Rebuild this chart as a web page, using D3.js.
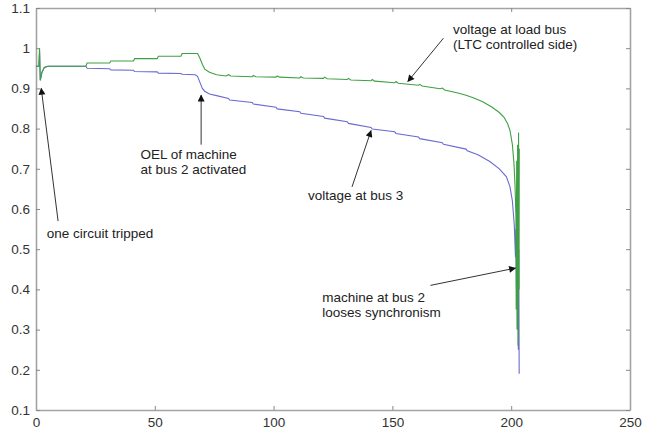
<!DOCTYPE html>
<html>
<head>
<meta charset="utf-8">
<script src="https://cdn.jsdelivr.net/npm/d3@7"></script>
<style>
  body { margin: 0; background: #fff; }
  text { font-family: "Liberation Sans", Arial, sans-serif; }
</style>
</head>
<body>
<div id="chart"></div>
<script>
// time (s) and voltage (pu)
const timeLoad = [0, 1.2, 1.5, 1.8, 2.5, 3.5, 5, 21, 21.5, 31, 31.5, 41, 41.5, 51, 51.5, 61, 61.5, 68, 69, 70, 71, 73, 76, 80, 81, 82, 91, 91.5, 92.5, 101, 101.5, 102.5, 111, 111.5, 112.5, 121, 121.5, 122.5, 131, 131.5, 132.5, 141, 141.5, 142.5, 151, 151.5, 152.5, 161, 161.5, 162.5, 170, 171, 172, 178, 181, 184, 188, 192, 195, 197, 198.5, 199.5, 200.5, 201.2, 201.6, 202, 202.1, 202.3, 202.5, 202.7, 202.9, 203.1, 203.3, 203.4];
const voltLoad = [0.955, 0.955, 1.0, 0.92, 0.94, 0.952, 0.955, 0.955, 0.963, 0.963, 0.968, 0.968, 0.974, 0.974, 0.98, 0.98, 0.987, 0.987, 0.975, 0.96, 0.948, 0.94, 0.934, 0.931, 0.934, 0.931, 0.929, 0.932, 0.929, 0.928, 0.931, 0.928, 0.926, 0.929, 0.926, 0.925, 0.928, 0.924, 0.922, 0.925, 0.921, 0.919, 0.922, 0.918, 0.914, 0.917, 0.913, 0.908, 0.91, 0.906, 0.899, 0.901, 0.896, 0.888, 0.883, 0.877, 0.867, 0.853, 0.84, 0.828, 0.812, 0.795, 0.76, 0.71, 0.66, 0.58, 0.35, 0.72, 0.3, 0.76, 0.26, 0.79, 0.4, 0.75];

const timeBus3 = [0, 1.2, 1.5, 1.8, 2.5, 3.5, 5, 21, 21.5, 31, 31.5, 41, 41.5, 51, 51.5, 61, 61.5, 67, 68, 69, 70, 71, 73, 76, 81, 81.5, 91, 91.5, 101, 101.5, 111, 111.5, 121, 121.5, 131, 131.5, 141, 141.5, 151, 151.5, 161, 161.5, 171, 171.5, 181, 181.5, 186, 191, 195, 198, 199.5, 200.5, 201.3, 201.8, 202, 202.2, 202.4, 202.6, 202.8, 203, 203.2, 203.35];
const voltBus3 = [0.955, 0.955, 0.99, 0.92, 0.94, 0.952, 0.955, 0.955, 0.95, 0.949, 0.946, 0.945, 0.942, 0.941, 0.938, 0.937, 0.935, 0.934, 0.93, 0.915, 0.9, 0.893, 0.886, 0.882, 0.875, 0.871, 0.865, 0.861, 0.853, 0.849, 0.842, 0.838, 0.83, 0.826, 0.817, 0.813, 0.803, 0.799, 0.792, 0.788, 0.779, 0.775, 0.765, 0.761, 0.749, 0.745, 0.735, 0.718, 0.7, 0.68, 0.655, 0.62, 0.56, 0.48, 0.55, 0.4, 0.62, 0.3, 0.58, 0.25, 0.5, 0.19];

const xTicks = [0, 50, 100, 150, 200, 250];
const yTicks = [0.1, 0.2, 0.3, 0.4, 0.5, 0.6, 0.7, 0.8, 0.9, 1, 1.1];

// annotations: text lines, then arrow from (t, v) to (t, v)
const notes = [
  { lines: ["voltage at load bus", "(LTC controlled side)"], at: [175.5, 1.036], from: [171.5, 1.025], to: [156.5, 0.917] },
  { lines: ["OEL of machine", "at bus 2 activated"], at: [44, 0.725], from: [69.5, 0.76], to: [69.5, 0.883] },
  { lines: ["voltage at bus 3"], at: [114.5, 0.623], from: [133, 0.655], to: [141, 0.795] },
  { lines: ["one circuit tripped"], at: [4.5, 0.528], from: [9.3, 0.57], to: [2.2, 0.9] },
  { lines: ["machine at bus 2", "looses synchronism"], at: [120.5, 0.368], from: [166, 0.41], to: [201.8, 0.453] }
];

const width = 648, height = 431;
const padLeft = 36, padRight = 630, padTop = 8, padBottom = 410;

const xScale = d3.scaleLinear().domain([0, 250]).range([padLeft, padRight]);
const yScale = d3.scaleLinear().domain([0.1, 1.1]).range([padBottom, padTop]);

const svg = d3.select("#chart").append("svg")
  .attr("width", width)
  .attr("height", height);

svg.append("defs").append("marker")
  .attr("id", "head")
  .attr("viewBox", "0 0 10 10")
  .attr("refX", 9).attr("refY", 5)
  .attr("markerWidth", 9).attr("markerHeight", 7)
  .attr("markerUnits", "userSpaceOnUse")
  .attr("orient", "auto")
  .append("path").attr("d", "M0,0L10,5L0,10z").attr("fill", "#111");

// axes on all four sides, ticks pointing inwards
const axisColor = "#a3a3a3";
function styleAxis(g) {
  g.select(".domain").attr("stroke", axisColor).attr("stroke-width", 1.6);
  g.selectAll(".tick line").attr("stroke", "#888");
  g.selectAll(".tick text").attr("fill", "#333").attr("font-size", "13.5px")
    .attr("font-family", "Liberation Sans, Arial, sans-serif");
}

svg.append("g")
  .attr("transform", "translate(0," + padBottom + ")")
  .call(d3.axisBottom(xScale).tickValues(xTicks).tickSizeInner(-4).tickSizeOuter(0).tickPadding(7).tickFormat(d3.format("d")))
  .call(styleAxis);
svg.append("g")
  .attr("transform", "translate(0," + padTop + ")")
  .call(d3.axisTop(xScale).tickValues(xTicks).tickSizeInner(-4).tickSizeOuter(0).tickFormat(""))
  .call(styleAxis);
svg.append("g")
  .attr("transform", "translate(" + padLeft + ",0)")
  .call(d3.axisLeft(yScale).tickValues(yTicks).tickSizeInner(-4).tickSizeOuter(0).tickPadding(6).tickFormat(d => d3.format("")(+d.toFixed(1))))
  .call(styleAxis);
svg.append("g")
  .attr("transform", "translate(" + padRight + ",0)")
  .call(d3.axisRight(yScale).tickValues(yTicks).tickSizeInner(-4).tickSizeOuter(0).tickFormat(""))
  .call(styleAxis);

const line = d3.line()
  .x(d => xScale(d[0]))
  .y(d => yScale(d[1]));

const bus3 = timeBus3.map((t, i) => [t, voltBus3[i]]);
const load = timeLoad.map((t, i) => [t, voltLoad[i]]);

svg.append("path").datum(bus3)
  .attr("d", line).attr("fill", "none")
  .attr("stroke", "#6a6ad2").attr("stroke-width", 1.1);
svg.append("path").datum(load)
  .attr("d", line).attr("fill", "none")
  .attr("stroke", "#3f9f44").attr("stroke-width", 1.1);

// annotations
notes.forEach(n => {
  svg.append("line")
    .attr("x1", xScale(n.from[0])).attr("y1", yScale(n.from[1]))
    .attr("x2", xScale(n.to[0])).attr("y2", yScale(n.to[1]))
    .attr("stroke", "#333").attr("stroke-width", 1)
    .attr("marker-end", "url(#head)");
  const t = svg.append("text")
    .attr("x", xScale(n.at[0])).attr("y", yScale(n.at[1]))
    .attr("font-size", "13.5px").attr("fill", "#222");
  n.lines.forEach((s, i) => {
    t.append("tspan").attr("x", xScale(n.at[0])).attr("dy", i ? 15 : 0).text(s);
  });
});
</script>
</body>
</html>
